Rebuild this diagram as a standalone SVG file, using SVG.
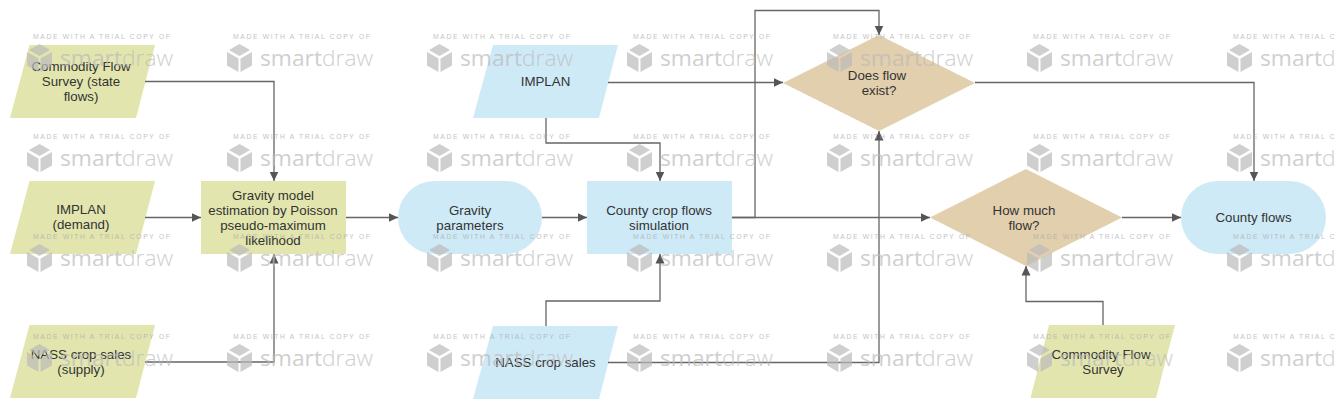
<svg xmlns="http://www.w3.org/2000/svg" width="1335" height="413" viewBox="0 0 1335 413">
<style>
.t{font-family:"Liberation Sans",Arial,sans-serif;font-size:13.3px;fill:#333;text-anchor:middle}
.g{fill:#e2e6ae}.b{fill:#cfeaf7}.d{fill:#e2cfae}
.c{fill:none;stroke:#666;stroke-width:1.3;marker-end:url(#a)}
.wt{font-family:"Liberation Sans",Arial,sans-serif;font-size:6.8px;fill:#aaa}
.wl{font-family:"Open Sans",Lato,sans-serif;font-size:22px;fill:#bbb}
.wi{fill:#bbb}
</style>
<defs>
<marker id="a" markerUnits="userSpaceOnUse" markerWidth="11" markerHeight="11" refX="9.5" refY="5" orient="auto"><path d="M0,.5L9.500,5L0,9.500Z" fill="#555"/></marker>
<g id="wm" opacity=".7">
<text class="wt" x="33" y="39" textLength="137" lengthAdjust="spacing">MADE WITH A TRIAL COPY OF</text>
<path class="wi" d="M39.500,44L50,50L39.500,56L29,50Z M27,52L38.500,58.500L38.500,72L27,65.500Z M52,52L40.500,58.500L40.500,72L52,65.500Z"/>
<text class="wl" x="60" y="65.500" textLength="113" lengthAdjust="spacingAndGlyphs">smart<tspan font-weight="300">draw</tspan></text>
</g>
</defs>
<g id="n1"><polygon class="g" points="29.500,45 155,45 136,118 10,118"/><text class="t"><tspan x="81" y="71">Commodity Flow</tspan><tspan x="81" y="86">Survey (state</tspan><tspan x="81" y="101">flows)</tspan></text></g>
<g id="n2"><polygon class="g" points="29.500,181 155,181 136,254 10,254"/><text class="t"><tspan x="81" y="214">IMPLAN</tspan><tspan x="81" y="229">(demand)</tspan></text></g>
<g id="n3"><polygon class="g" points="29.500,325 155,325 136,398 10,398"/><text class="t"><tspan x="81" y="359">NASS crop sales</tspan><tspan x="81" y="374">(supply)</tspan></text></g>
<g id="n4"><rect class="g" x="201" y="181" width="145" height="73"/><text class="t"><tspan x="273" y="200">Gravity model</tspan><tspan x="273" y="215">estimation by Poisson</tspan><tspan x="273" y="230">pseudo-maximum</tspan><tspan x="273" y="245">likelihood</tspan></text></g>
<g id="n5"><rect class="b" x="398" y="181" width="144" height="73" rx="36.500"/><text class="t"><tspan x="470" y="215">Gravity</tspan><tspan x="470" y="230">parameters</tspan></text></g>
<g id="n6"><polygon class="b" points="493,45 618,45 599,118 473,118"/><text class="t" x="545.500" y="86">IMPLAN</text></g>
<g id="n7"><rect class="b" x="587" y="181" width="145" height="73"/><text class="t"><tspan x="659" y="215">County crop flows</tspan><tspan x="659" y="230">simulation</tspan></text></g>
<g id="n8"><polygon class="b" points="493,326 618,326 599,399 473,399"/><text class="t" x="545.500" y="367">NASS crop sales</text></g>
<g id="n9"><polygon class="d" points="879,35 975,83 879,131 783,83"/><text class="t"><tspan x="877" y="80">Does flow</tspan><tspan x="879" y="95">exist?</tspan></text></g>
<g id="n10"><polygon class="d" points="1026,169 1122,217.500 1026,266 930,217.500"/><text class="t"><tspan x="1024" y="215">How much</tspan><tspan x="1024" y="230">flow?</tspan></text></g>
<g id="n11"><polygon class="g" points="1049,325 1175,325 1156,398 1030.500,398"/><text class="t"><tspan x="1101" y="359">Commodity Flow</tspan><tspan x="1103" y="374">Survey</tspan></text></g>
<g id="n12"><rect class="b" x="1181" y="181" width="145" height="73" rx="36.500"/><text class="t" x="1253.500" y="222">County flows</text></g>
<g id="connectors">
<path class="c" d="M145,81.500H274V181"/>
<path class="c" d="M145,217.500H201"/>
<path class="c" d="M145,362H274V254"/>
<path class="c" d="M346,217.500H398"/>
<path class="c" d="M542,217.500H587"/>
<path class="c" d="M608,82.500H783"/>
<path class="c" d="M546,118V143H660V181"/>
<path class="c" d="M546,326V301H660V254"/>
<path class="c" d="M732,217.500H930"/>
<path class="c" d="M732,217.500H755V10.500H879V35"/>
<path class="c" d="M608,362.500H879V131"/>
<path class="c" d="M975,82.500H1254V181"/>
<path class="c" d="M1122,217.500H1181"/>
<path class="c" d="M1103,325V301.500H1026V266"/>
</g>
<g id="watermark">
<use href="#wm"/><use href="#wm" x="200"/><use href="#wm" x="400"/><use href="#wm" x="600"/><use href="#wm" x="800"/><use href="#wm" x="1000"/><use href="#wm" x="1200"/>
<use href="#wm" y="100"/><use href="#wm" x="200" y="100"/><use href="#wm" x="400" y="100"/><use href="#wm" x="600" y="100"/><use href="#wm" x="800" y="100"/><use href="#wm" x="1000" y="100"/><use href="#wm" x="1200" y="100"/>
<use href="#wm" y="200"/><use href="#wm" x="200" y="200"/><use href="#wm" x="400" y="200"/><use href="#wm" x="600" y="200"/><use href="#wm" x="800" y="200"/><use href="#wm" x="1000" y="200"/><use href="#wm" x="1200" y="200"/>
<use href="#wm" y="300"/><use href="#wm" x="200" y="300"/><use href="#wm" x="400" y="300"/><use href="#wm" x="600" y="300"/><use href="#wm" x="800" y="300"/><use href="#wm" x="1000" y="300"/><use href="#wm" x="1200" y="300"/>
</g>
</svg>
